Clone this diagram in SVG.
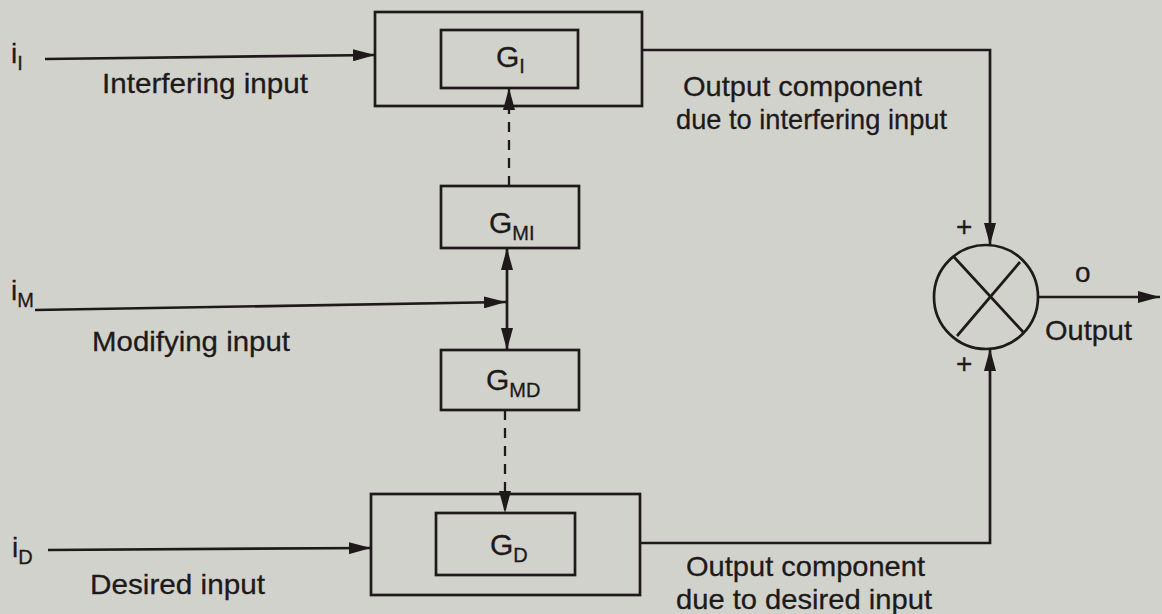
<svg xmlns="http://www.w3.org/2000/svg" width="1162" height="614" viewBox="0 0 1162 614">
<defs>
<style>
.ln{stroke:#1e1a1a;stroke-width:2.7;fill:none}
.dash{stroke:#1e1a1a;stroke-width:2.3;fill:none;stroke-dasharray:10 8}
.box{stroke:#1e1a1a;stroke-width:2.7;fill:none}
.t{font-family:"Liberation Sans",Arial,sans-serif;font-size:28px;fill:#1e1a1a;stroke:#1e1a1a;stroke-width:0.3}
.g{font-family:"Liberation Sans",Arial,sans-serif;font-size:30px;fill:#1e1a1a;stroke:#1e1a1a;stroke-width:0.3}
.s{font-size:20px}
</style>
<marker id="ah" viewBox="0 0 22 12" refX="22" refY="6" markerWidth="22" markerHeight="12" markerUnits="userSpaceOnUse" orient="auto">
<path d="M0,0 L22,6 L0,12 Z" fill="#1e1a1a"/>
</marker>
</defs>
<rect width="1162" height="614" fill="#d2d2cd"/>

<g id="node-GI-outer"><rect class="box" x="375" y="12" width="267" height="94"/></g>
<g id="node-GI"><rect class="box" x="441" y="30" width="137" height="58"/>
<text class="g" x="496" y="67">G<tspan class="s" dy="6">I</tspan></text></g>
<g id="node-GMI"><rect class="box" x="441" y="186" width="138" height="62"/>
<text class="g" x="489" y="233">G<tspan class="s" dy="7">MI</tspan></text></g>
<g id="node-GMD"><rect class="box" x="441" y="350" width="138" height="60"/>
<text class="g" x="486" y="390">G<tspan class="s" dy="7">MD</tspan></text></g>
<g id="node-GD-outer"><rect class="box" x="371" y="494" width="269" height="101"/></g>
<g id="node-GD"><rect class="box" x="436" y="513" width="139" height="62"/>
<text class="g" x="490" y="555">G<tspan class="s" dy="7">D</tspan></text></g>
<g id="node-sum">
<circle class="ln" cx="986" cy="297" r="52"/>
<line class="ln" x1="954" y1="257" x2="1024" y2="333"/>
<line class="ln" x1="1020" y1="262" x2="957" y2="336"/>
</g>

<g id="connectors">
<line class="ln" x1="45" y1="59" x2="375" y2="55" marker-end="url(#ah)"/>
<line class="dash" x1="509" y1="186" x2="509" y2="88" marker-end="url(#ah)"/>
<line class="ln" x1="507" y1="300" x2="507" y2="248" marker-end="url(#ah)"/>
<line class="ln" x1="507" y1="300" x2="507" y2="350" marker-end="url(#ah)"/>
<line class="ln" x1="35" y1="310" x2="506" y2="302" marker-end="url(#ah)"/>
<line class="dash" x1="505" y1="410" x2="505" y2="513" marker-end="url(#ah)"/>
<line class="ln" x1="48" y1="550" x2="371" y2="548" marker-end="url(#ah)"/>
<polyline class="ln" points="642,50 990,50 990,245" marker-end="url(#ah)"/>
<polyline class="ln" points="640,543 990,543 990,349" marker-end="url(#ah)"/>
<line class="ln" x1="1038" y1="297" x2="1160" y2="297" marker-end="url(#ah)"/>
</g>

<g id="labels">
<text class="t" x="11" y="63">i<tspan class="s" dy="7">I</tspan></text>
<text class="t" x="102" y="93" textLength="206" lengthAdjust="spacingAndGlyphs">Interfering input</text>
<text class="t" x="11" y="300">i<tspan class="s" dy="7">M</tspan></text>
<text class="t" x="92" y="351" textLength="198" lengthAdjust="spacingAndGlyphs">Modifying input</text>
<text class="t" x="12" y="557">i<tspan class="s" dy="7">D</tspan></text>
<text class="t" x="90" y="594" textLength="175" lengthAdjust="spacingAndGlyphs">Desired input</text>
<text class="t" x="683" y="96" textLength="239" lengthAdjust="spacingAndGlyphs">Output component</text>
<text class="t" x="676" y="129" textLength="271" lengthAdjust="spacingAndGlyphs">due to interfering input</text>
<text class="t" x="686" y="576" textLength="239" lengthAdjust="spacingAndGlyphs">Output component</text>
<text class="t" x="676" y="609" textLength="256" lengthAdjust="spacingAndGlyphs">due to desired input</text>
<text class="t" x="956" y="236" font-size="22">+</text>
<text class="t" x="956" y="373" font-size="22">+</text>
<text class="t" x="1075" y="282" font-size="22">o</text>
<text class="t" x="1045" y="340" textLength="87" lengthAdjust="spacingAndGlyphs">Output</text>
</g>
</svg>
